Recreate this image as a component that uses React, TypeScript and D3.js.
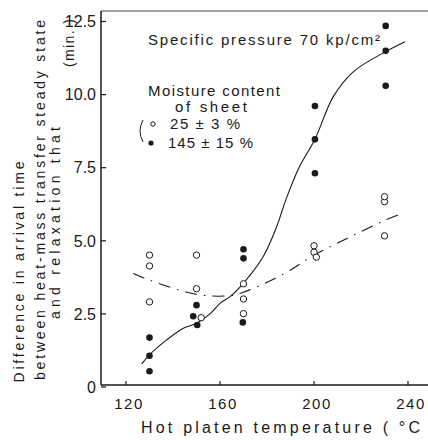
import React from "react";
import * as d3 from "d3";

const xTicks = [120, 160, 200, 240];
const yTicks = [0, 2.5, 5, 7.5, 10, 12.5];
const yTickLabels = ["0", "2.5", "5.0", "7.5", "10.0", "12.5"];

// open circles: moisture 25 ± 3 %
const openX = [130, 130, 130, 150, 150, 152, 170, 170, 170, 200, 200, 201, 230, 230, 230];
const openY = [4.51, 4.14, 2.91, 4.51, 3.36, 2.37, 3.53, 3.01, 2.51, 4.83, 4.61, 4.44, 5.17, 6.34, 6.51];

// filled circles: moisture 145 ± 15 %
const fillX = [130, 130, 130, 148.6, 150, 150.3, 170, 170, 169.7, 200.4, 200.4, 200.4, 230.5, 230.5, 230.5];
const fillY = [1.69, 1.07, 0.54, 2.42, 2.8, 2.12, 4.71, 4.4, 2.21, 9.61, 8.47, 7.31, 12.35, 11.5, 10.3];

// solid fitted curve (145 %)
const solidX = [126.7, 130, 137.3, 144.4, 150, 155.7, 160, 164.3, 170.2, 178.4, 184.1, 188, 193.8, 200.4, 208.2, 216.7, 230.5, 238.7];
const solidY = [0.79, 1.1, 1.61, 2.01, 2.18, 2.5, 2.86, 3.09, 3.57, 4.46, 5.48, 6.4, 7.53, 8.47, 9.93, 10.78, 11.47, 11.81];

// dash-dot fitted curve (25 %)
const dashX = [123.1, 130.2, 149.8, 163.5, 170.2, 186.9, 200.1, 215.3, 230.2, 238.4];
const dashY = [3.88, 3.65, 3.17, 3.12, 3.25, 3.86, 4.51, 5.13, 5.7, 5.97];

const yTitleLines = [
  "Difference in arrival time",
  "between heat-mass transfer steady state",
  "and relaxation that",
];

const FONT = "'Liberation Sans', Arial, sans-serif";
const INK = "#1a1a1a";

export default function App() {
  const x = d3.scaleLinear().domain([120, 240]).range([126, 408]);
  const y = d3.scaleLinear().domain([0, 12.5]).range([387, 21.5]);
  const left = 101;
  const top = 11;
  const bottom = 385;
  const right = 428;

  const solidPts: [number, number][] = solidX.map((v, i) => [x(v), y(solidY[i])]);
  const dashPts: [number, number][] = dashX.map((v, i) => [x(v), y(dashY[i])]);
  const line = d3.line().curve(d3.curveCatmullRom.alpha(0.5));

  const yTitlePos = [
    { x: 24, cy: 272, len: 221 },
    { x: 45, cy: 200, len: 360 },
    { x: 60, cy: 223, len: 192 },
  ];

  return (
    <svg
      width={428}
      height={440}
      style={{ position: "absolute", left: 0, top: 0, background: "#fff" }}
      fontFamily={FONT}
    >
      <rect width={428} height={440} fill="#fff" />
      {/* axes frame */}
      <line x1={left} y1={top} x2={left} y2={bottom} stroke={INK} strokeWidth={1.5} />
      <line x1={left} y1={bottom} x2={right} y2={bottom} stroke={INK} strokeWidth={1.5} />
      <line x1={left} y1={top} x2={right} y2={top} stroke="#444" strokeWidth={1} />

      {/* y ticks */}
      {yTicks.map((t, i) => (
        <g key={"yt" + i}>
          <line x1={left} x2={left + 5} y1={y(t)} y2={y(t)} stroke={INK} strokeWidth={1.2} />
          <text x={96} y={y(t)} dy="0.36em" textAnchor="end" fontSize={16} fill={INK}>
            {yTickLabels[i]}
          </text>
        </g>
      ))}
      {/* x ticks */}
      {xTicks.map((t) => (
        <g key={"xt" + t}>
          <line x1={x(t)} x2={x(t)} y1={bottom} y2={bottom - 4} stroke={INK} strokeWidth={1.2} />
          <text x={x(t) + 3} y={409} textAnchor="middle" fontSize={15} fill={INK} letterSpacing={1.5}>
            {t}
          </text>
        </g>
      ))}

      {/* axis titles */}
      <text x={141} y={433} fontSize={16} fill={INK} textLength={279} lengthAdjust="spacing">
        Hot platen temperature ( °C
      </text>
      {yTitleLines.map((s, i) => (
        <text
          key={"ytl" + i}
          transform={`translate(${yTitlePos[i].x},${yTitlePos[i].cy}) rotate(-90)`}
          textAnchor="middle"
          fontSize={14}
          fill={INK}
          textLength={yTitlePos[i].len}
          lengthAdjust="spacing"
        >
          {s}
        </text>
      ))}
      <text
        transform={`translate(74,43) rotate(-90)`}
        textAnchor="middle"
        fontSize={14}
        fill={INK}
        textLength={48}
        lengthAdjust="spacing"
      >
        (min. )
      </text>

      {/* annotations */}
      <text x={148} y={45} fontSize={15} fill={INK} textLength={232} lengthAdjust="spacing">
        Specific pressure 70 kp/cm²
      </text>
      <text x={148} y={96} fontSize={15} fill={INK} textLength={132} lengthAdjust="spacing">
        Moisture content
      </text>
      <text x={175} y={112} fontSize={15} fill={INK} textLength={72} lengthAdjust="spacing">
        of sheet
      </text>
      <circle cx={153} cy={124} r={2.2} fill="none" stroke={INK} strokeWidth={1} />
      <text x={170} y={129} fontSize={15} fill={INK} textLength={70} lengthAdjust="spacing">
        25 ± 3 %
      </text>
      <circle cx={151} cy={143} r={2.6} fill={INK} />
      <text x={168} y={148} fontSize={15} fill={INK} textLength={85} lengthAdjust="spacing">
        145 ± 15 %
      </text>
      <path d="M143,120 Q137,131 143,142" fill="none" stroke={INK} strokeWidth={1} />

      {/* curves */}
      <path d={line(solidPts) || ""} fill="none" stroke={INK} strokeWidth={1.1} />
      <path
        d={line(dashPts) || ""}
        fill="none"
        stroke={INK}
        strokeWidth={1.1}
        strokeDasharray="12 7 1.5 7"
      />

      {/* points */}
      {openX.map((v, i) => (
        <circle key={"o" + i} cx={x(v)} cy={y(openY[i])} r={3.2} fill="#fff" stroke={INK} strokeWidth={1} />
      ))}
      {fillX.map((v, i) => (
        <circle key={"f" + i} cx={x(v)} cy={y(fillY[i])} r={3.3} fill={INK} />
      ))}
    </svg>
  );
}
